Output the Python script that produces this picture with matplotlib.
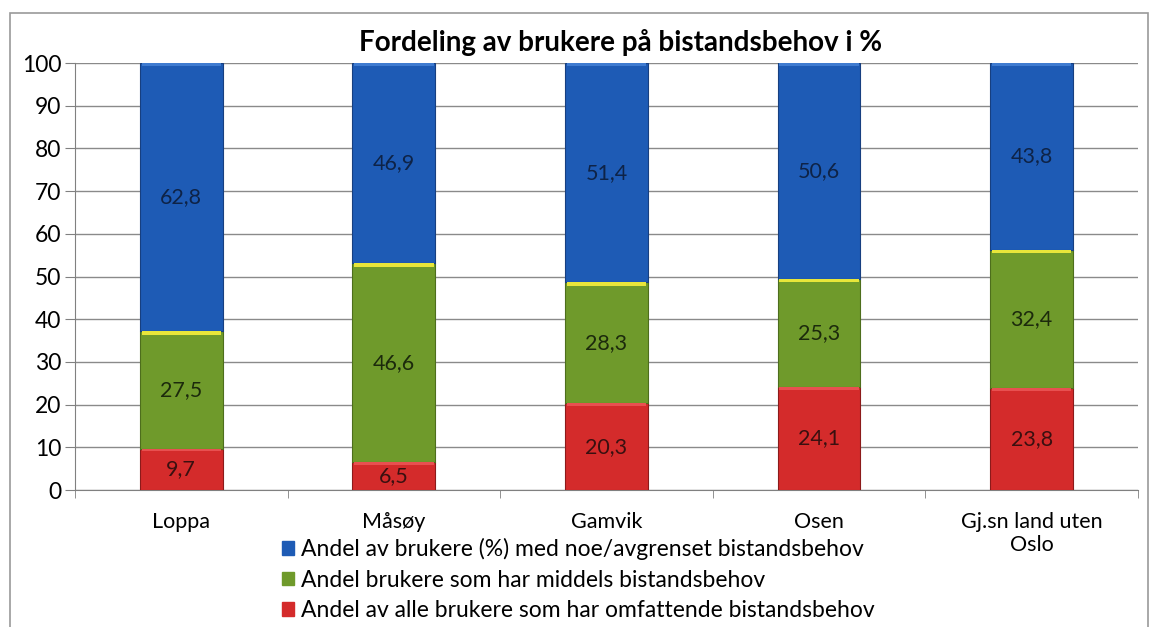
import matplotlib.pyplot as plt
import matplotlib.patches as mpatches
import numpy as np

plt.rcParams['font.family'] = ['Lato', 'DejaVu Sans']

# Data
kommuner = ['Loppa', 'Måsøy', 'Gamvik', 'Osen', 'Gj.sn land uten\nOslo']
omfattende = [9.7, 6.5, 20.3, 24.1, 23.8]
middels = [27.5, 46.6, 28.3, 25.3, 32.4]
avgrenset = [62.8, 46.9, 51.4, 50.6, 43.8]

lbl_avgrenset = 'Andel av brukere (%) med noe/avgrenset bistandsbehov'
lbl_middels = 'Andel brukere som har middels bistandsbehov'
lbl_omfattende = 'Andel av alle brukere som har omfattende bistandsbehov'

c_red = '#D42B2B'
c_green = '#6F9A2B'
c_blue = '#1E5BB5'

fig = plt.figure(figsize=(11.49, 6.27), dpi=100)
ax = fig.add_axes([0.0653, 0.2185, 0.925, 0.681])

x = np.arange(len(kommuner))
w = 0.39
bot1 = np.array(omfattende)
bot2 = bot1 + np.array(middels)

b1 = ax.bar(x, omfattende, w, color=c_red, edgecolor='#8c1a1a', linewidth=0.8, zorder=3)
b2 = ax.bar(x, middels, w, bottom=bot1, color=c_green, edgecolor='#4d6e1c', linewidth=0.8, zorder=3)
b3 = ax.bar(x, avgrenset, w, bottom=bot2, color=c_blue, edgecolor='#173f80', linewidth=0.8, zorder=3)

# thin highlight on top of each segment (bevel look)
ax.bar(x, 0.8, w * 0.96, bottom=bot1 + np.array(middels) - 0.8, color='#E8E63A', zorder=4, linewidth=0)
ax.bar(x, 0.6, w * 0.96, bottom=bot1 - 0.6, color='#E85050', zorder=4, linewidth=0)
ax.bar(x, 0.6, w * 0.96, bottom=bot2 + np.array(avgrenset) - 0.6, color='#3F7BD0', zorder=4, linewidth=0)

for bars, vals, bottoms, tc in [(b1, omfattende, np.zeros(5), '#3a1010'),
                                (b2, middels, bot1, '#1c2a0c'),
                                (b3, avgrenset, bot2, '#0e2347')]:
    for xi, v, b in zip(x, vals, bottoms):
        ax.text(xi, b + v / 2, f'{v:.1f}'.replace('.', ','), ha='center', va='center',
                fontsize=15.5, color=tc, zorder=5)

ax.set_xlim(-0.5, 4.5)
ax.set_ylim(0, 100)
ax.set_yticks(np.arange(0, 101, 10))
ax.set_xticks(x)
ax.set_xticklabels(kommuner, fontsize=15.5)
ax.set_xticks(np.arange(-0.5, 4.6, 1), minor=True)
ax.tick_params(axis='x', which='major', length=0, pad=16)
ax.tick_params(axis='x', which='minor', length=6, color='#808080', direction='out')
ax.tick_params(axis='y', labelsize=16.5, length=7, color='#808080', pad=3)
ax.yaxis.grid(True, color='#8a8a8a', linewidth=1.0, zorder=0)
ax.set_axisbelow(True)
for s in ['top', 'right']:
    ax.spines[s].set_visible(False)
ax.spines['left'].set_color('#808080')
ax.spines['bottom'].set_color('#808080')

fig.text(0.54, 0.932, 'Fordeling av brukere på bistandsbehov i %', ha='center', va='center',
         fontsize=20, fontweight='bold')

handles = [mpatches.Patch(color=c_blue, label=lbl_avgrenset),
           mpatches.Patch(color=c_green, label=lbl_middels),
           mpatches.Patch(color=c_red, label=lbl_omfattende)]
fig.legend(handles=handles, loc='upper left', bbox_to_anchor=(0.245, 0.142), frameon=False,
           fontsize=16.5, handlelength=0.55, handleheight=0.55, handletextpad=0.3,
           labelspacing=0.42, borderpad=0, borderaxespad=0)

# chart border
fig.patches.append(mpatches.Rectangle((0.009, -0.01), 0.99, 0.99, transform=fig.transFigure,
                                      fill=False, edgecolor='#9a9a9a', linewidth=1.2))

fig.savefig('out.png', dpi=100)
